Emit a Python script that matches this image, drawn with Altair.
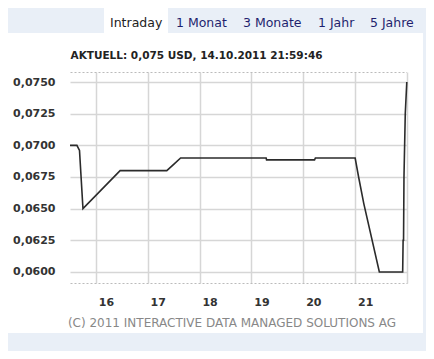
import altair as alt
import pandas as pd

# ---- data ----
times = ["15:30:00", "15:38:00", "15:41:00", "15:45:00", "16:28:00", "17:22:00",
         "17:30:00", "17:38:00", "19:17:00", "19:17:30", "20:13:00", "20:14:00",
         "21:00:00", "21:04:00", "21:10:00", "21:28:00", "21:55:00", "21:55:30",
         "21:56:00", "21:56:30", "21:58:00", "21:59:46"]
prices = [0.0700, 0.0700, 0.0696, 0.0650, 0.0680, 0.0680,
          0.0685, 0.0690, 0.0690, 0.06885, 0.06885, 0.0690,
          0.0690, 0.0675, 0.0654, 0.0600, 0.0600, 0.0625,
          0.0625, 0.0675, 0.0725, 0.0750]
hour_ticks = [16, 17, 18, 19, 20, 21, 22]
price_ticks = [0.0600, 0.0625, 0.0650, 0.0675, 0.0700, 0.0725, 0.0750]
tabs = ["Intraday", "1 Monat", "3 Monate", "1 Jahr", "5 Jahre"]
title_text = "AKTUELL: 0,075 USD, 14.10.2011 21:59:46"
footer_text = "(C) 2011 INTERACTIVE DATA MANAGED SOLUTIONS AG"


def to_hours(t):
    h, m, s = (int(p) for p in t.split(":"))
    return h + m / 60 + s / 3600


df = pd.DataFrame({"hour": [to_hours(t) for t in times], "price": prices})
dummy = pd.DataFrame({"d": [0]})

W, H = 337, 211
BG = "#e9eff7"
FONT = "DejaVu Sans"

line = alt.Chart(df).mark_line(color="#2b2b2b", strokeWidth=1.6, interpolate="linear").encode(
    x=alt.X("hour:Q",
            scale=alt.Scale(domain=[15.5, 22], nice=False, zero=False),
            axis=alt.Axis(values=hour_ticks, title=None, grid=True, gridColor="#d6d6d6",
                          gridWidth=1.5, ticks=False, domain=True, domainColor="#bbbbbb",
                          domainDash=[2, 2], labelOffset=10, labelPadding=13,
                          labelExpr="datum.value < 22 ? datum.value : ''",
                          labelFont=FONT, labelFontSize=11, labelFontWeight="bold",
                          labelColor="#333333")),
    y=alt.Y("price:Q",
            scale=alt.Scale(domain=[0.05913, 0.07579], nice=False, zero=False),
            axis=alt.Axis(values=price_ticks, title=None, grid=True, gridColor="#d6d6d6",
                          gridWidth=1.5, ticks=False, domain=False, labelPadding=15,
                          labelExpr="replace(format(datum.value, '.4f'), '.', ',')",
                          labelFont=FONT, labelFontSize=11, labelFontWeight="bold",
                          labelColor="#333333")),
)

def rect(x1, x2, y1, y2, color):
    return alt.Chart(dummy).mark_rect(color=color).encode(
        x=alt.value(x1), x2=alt.value(x2), y=alt.value(y1), y2=alt.value(y2))

strips = [
    rect(-62, 34, -64, -39, BG),      # top strip left of tab
    rect(98, 356, -64, -39, BG),      # top strip right of tab
    rect(353, 356, -64, 279, BG),     # right strip
    rect(-62, 356, 261, 279, BG),     # bottom strip
]

top_border = alt.Chart(dummy).mark_rule(color="#bbbbbb", strokeDash=[2, 2], strokeWidth=1).encode(
    x=alt.value(0.5), x2=alt.value(W), y=alt.value(0.5))

tab_x = [40, 106, 173, 248, 300]
tab_layers = []
for i, (t, tx) in enumerate(zip(tabs, tab_x)):
    tab_layers.append(
        alt.Chart(dummy).mark_text(text=t, align="left", baseline="middle", font=FONT,
                                   fontSize=12.5,
                                   color="#222222" if i == 0 else "#1f1f6e").encode(
            x=alt.value(tx), y=alt.value(-49)))

title = alt.Chart(dummy).mark_text(text=title_text, align="left", baseline="middle", font=FONT,
                                   fontSize=10.5, fontWeight="bold", color="#222222").encode(
    x=alt.value(0.5), y=alt.value(-16))

footer = alt.Chart(dummy).mark_text(text=footer_text, align="center", baseline="middle", font=FONT,
                                    fontSize=12, color="#888888").encode(
    x=alt.value(162), y=alt.value(251))

chart = alt.layer(*strips, top_border, line, *tab_layers, title, footer).properties(
    width=W, height=H,
    padding={"left": 62, "top": 64, "right": 19, "bottom": 68},
    autosize="none",
    background="white",
).configure_view(stroke=None)

chart.save("out.html", embed_options={"renderer": "svg", "actions": False})
